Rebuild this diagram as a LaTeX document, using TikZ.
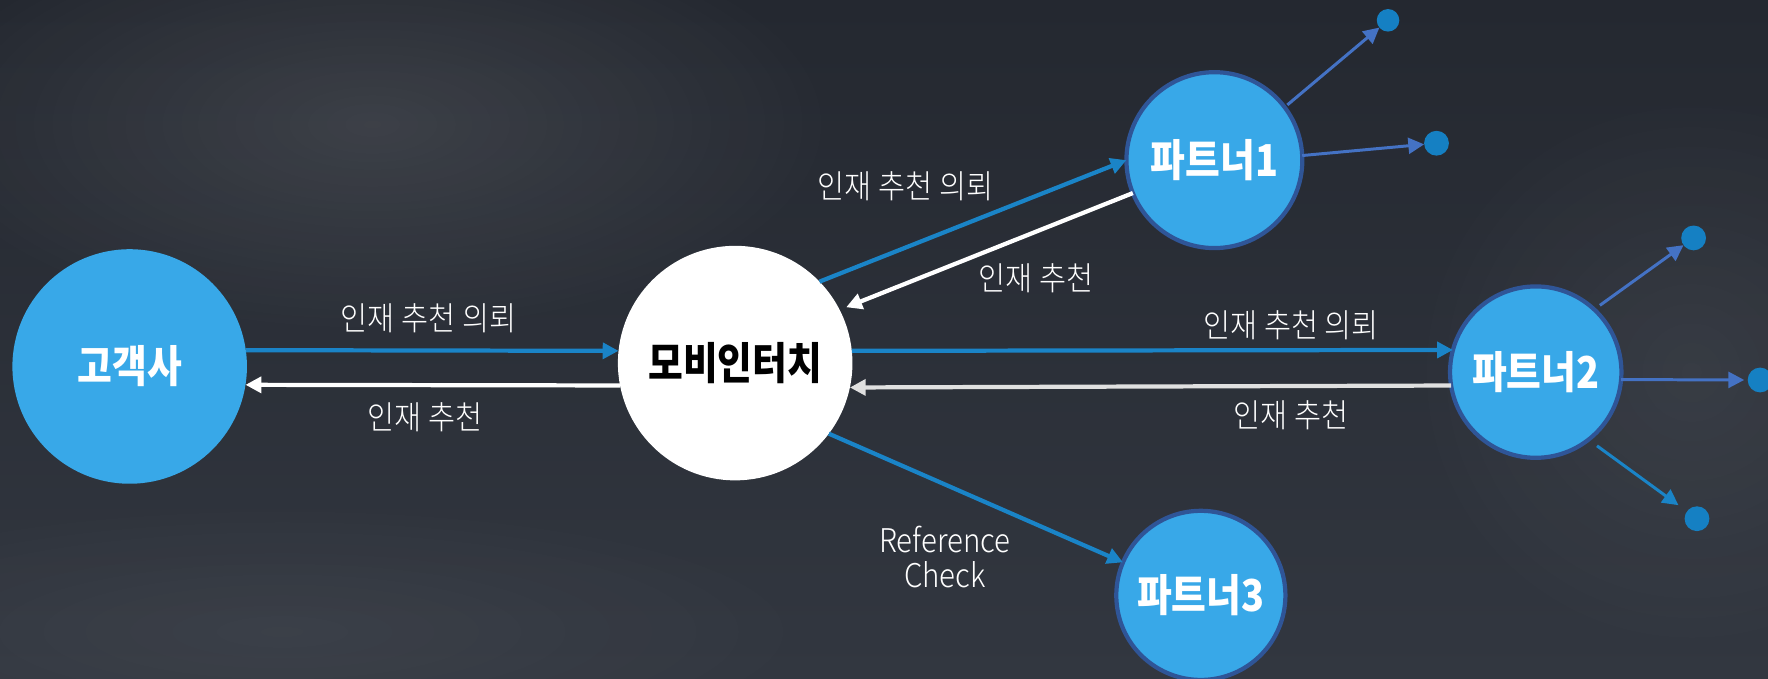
\documentclass[tikz,border=0pt]{standalone}
\usepackage{fontspec}
\IfFontExistsTF{Noto Sans CJK KR Light}
  {\setmainfont[FakeStretch=0.9]{Noto Sans CJK KR Light}}
  {\setmainfont[FakeStretch=0.9]{Noto Sans CJK KR}}
\newfontfamily\hubfont[FakeStretch=0.86]{Noto Sans CJK KR}
\usetikzlibrary{arrows.meta,fadings}

\definecolor{bgtop}{RGB}{36,40,48}
\definecolor{bgbot}{RGB}{50,55,64}
\definecolor{ball}{RGB}{56,168,232}
\definecolor{rim}{RGB}{47,85,151}
\definecolor{flow}{RGB}{26,132,199}
\definecolor{dotc}{RGB}{21,128,195}
\definecolor{fan}{RGB}{68,114,196}
\newcommand{\px}{0.011276cm}
\tikzfading[name=softedge, inner color=transparent!0, outer color=transparent!100]

\tikzset{
  hub/.style={circle, fill=ball, inner sep=0pt, outer sep=0pt, minimum size=#1*\px, text=white, font=\hubfont\bfseries\fontsize{12.5}{14}\selectfont},
  partner/.style={hub=#1, draw=rim, line width=1.2pt},
  leaf/.style={circle, fill=dotc, inner sep=0pt, outer sep=0pt, minimum size=22*\px},
  ask/.style={draw=flow, line width=1.2pt, -{Triangle[length=4.5pt,width=4.5pt]}},
  reply/.style={draw=white, line width=1.2pt, -{Triangle[length=4.5pt,width=4.5pt]}},
  spread/.style={draw=fan, line width=0.85pt, -{Triangle[length=4.5pt,width=4.5pt]}},
  lbl/.style={text=white, font=\fontsize{9.3}{10}\selectfont, align=center},
  haze/.style={fill=white, fill opacity=#1, path fading=softedge}
}

\begin{document}
\begin{tikzpicture}[x=\px, y=-\px]
  \shade [top color=bgtop, bottom color=bgbot] (0,0) rectangle (1568,601.3);
  \useasboundingbox (0,0) rectangle (1568,601.3);
  \fill [haze=0.10] (330,110) ellipse [x radius=420, y radius=190];
  \fill [haze=0.06] (1500,330) ellipse [x radius=260, y radius=260];
  \fill [haze=0.05] (250,560) ellipse [x radius=500, y radius=120];

  \node (cust) [hub=208] at (115,325) {고객사};
  \node (mobi) [hub=208, fill=white, text=black] at (652,322) {모비인터치};
  \node (p1) [partner=156] at (1077,142) {파트너1};
  \node (p2) [partner=152] at (1362,330) {파트너2};
  \node (p3) [partner=150] at (1065,528) {파트너3};
  \node (d1) [leaf, minimum size=20*\px] at (1231,18) {};
  \node (d2) [leaf] at (1274,127) {};
  \node (d3) [leaf] at (1502,211) {};
  \node (d4) [leaf] at (1561,337) {};
  \node (d5) [leaf] at (1505,460) {};

  \draw [ask] (cust.8) -- (mobi.174);
  \draw [reply] (mobi.191) -- (cust.351);
  \draw [ask] (mobi.44) -- (p1.180);
  \draw [reply, shorten >=2pt] (p1.202) -- (mobi.27);
  \draw [ask] (mobi.6) -- (p2.165);
  \draw [reply, draw=white!88!black] (p2.189) -- (mobi.348);
  \draw [ask] (mobi.323) -- (p3.157);

  \draw [spread, shorten <=1pt] (p1.37) -- (d1);
  \draw [spread] (p1.3) -- (d2);
  \draw [spread, shorten <=2pt] (p2.47) -- (d3);
  \draw [spread, shorten >=1pt] (p2.355) -- (d4);
  \draw [spread, draw=flow, shorten <=3pt, shorten >=3pt] (p2.308) -- (d5);

  \node (t1) [lbl] at (380,282) {인재 추천 의뢰};
  \node (t2) [lbl] at (377,370) {인재 추천};
  \node (t3) [lbl] at (803,165) {인재 추천 의뢰};
  \node (t4) [lbl] at (919,247) {인재 추천};
  \node (t5) [lbl] at (1145,288) {인재 추천 의뢰};
  \node (t6) [lbl] at (1145,368) {인재 추천};
  \node (t7) [lbl] at (838,494) {Reference\\Check};
\end{tikzpicture}
\end{document}
